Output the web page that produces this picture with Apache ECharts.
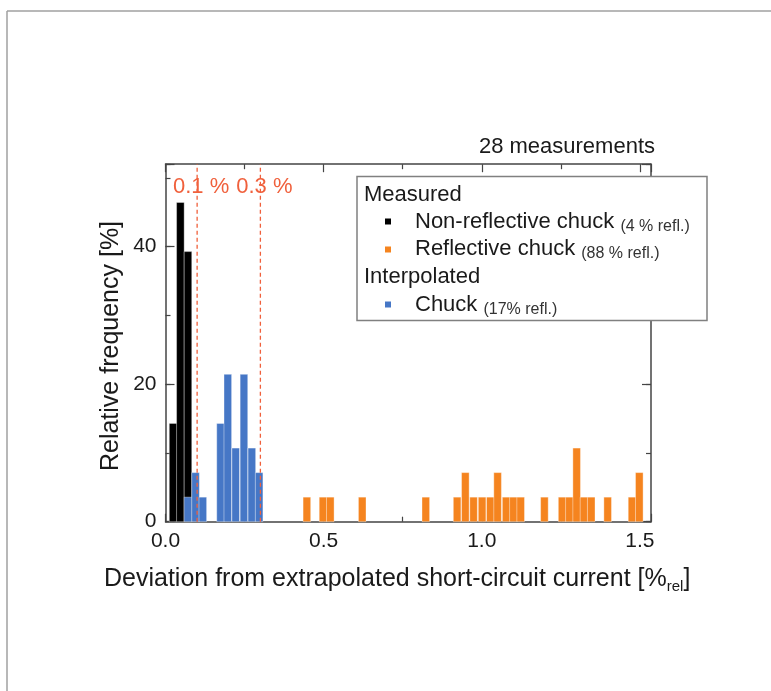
<!DOCTYPE html>
<html>
<head>
<meta charset="utf-8">
<script src="https://cdn.jsdelivr.net/npm/echarts@6/dist/echarts.min.js"></script>
<style>
  html, body { margin: 0; padding: 0; background: #fff; }
  #chart { width: 771px; height: 691px; }
</style>
</head>
<body>
<div id="chart"></div>
<script>
// histogram bins: centre of each bin and relative frequency [%] (28 measurements)
const blackX = [0.024, 0.047, 0.071];
const blackY = [14.29, 46.43, 39.29];

const orangeX = [0.447, 0.498, 0.521, 0.622, 0.823, 0.922, 0.948, 0.974, 1.001, 1.027,
                 1.050, 1.077, 1.100, 1.123, 1.198, 1.254, 1.277, 1.300, 1.323, 1.346,
                 1.398, 1.475, 1.498];
const orangeY = [3.57, 3.57, 3.57, 3.57, 3.57, 3.57, 7.14, 3.57, 3.57, 3.57,
                 7.14, 3.57, 3.57, 3.57, 3.57, 3.57, 3.57, 10.71, 3.57, 3.57,
                 3.57, 3.57, 7.14];

const blueX = [0.071, 0.095, 0.118, 0.174, 0.197, 0.222, 0.248, 0.273, 0.296];
const blueY = [3.57, 7.14, 3.57, 14.29, 21.43, 10.71, 21.43, 10.71, 7.14];

const guideX = [0.1, 0.3];
const guideLabels = ['0.1 %', '0.3 %'];

const xTicks = [0, 0.5, 1.0, 1.5];
const yTicks = [0, 20, 40];

const BIN_W = 0.024;
const X_MAX = 1.535;
const Y_MAX = 52;
const GUIDE_LABEL_Y = 48.7;

const FONT = '"Liberation Sans", Arial, sans-serif';
const TXT = '#1a1a1a';
const AX = '#444';
const RED = '#f0603c';
const ORANGE = '#f5841f';
const BLUE = '#4677c6';

const myChart = echarts.init(document.getElementById('chart'));

function barRenderer(color) {
  return function (params, api) {
    const x = api.value(0);
    const y = api.value(1);
    const tl = api.coord([x - BIN_W / 2, y]);
    const br = api.coord([x + BIN_W / 2, 0]);
    return {
      type: 'rect',
      shape: { x: tl[0], y: tl[1], width: br[0] - tl[0], height: br[1] - tl[1] },
      style: { fill: color, stroke: 'rgba(255,255,255,0.45)', lineWidth: 0.8 }
    };
  };
}

function pairs(xs, ys) {
  return xs.map((x, i) => [x, ys[i]]);
}

const onTick = (v, list) => list.some(t => Math.abs(t - v) < 1e-6);

const xAxisBase = {
  type: 'value',
  min: 0,
  max: X_MAX,
  interval: 0.5,
  axisLine: { show: true, onZero: false, lineStyle: { color: AX, width: 1.5 } },
  axisTick: { show: true, inside: true, length: 8, lineStyle: { color: AX, width: 1.2 } },
  minorTick: { show: true, splitNumber: 2, length: 5, lineStyle: { color: AX, width: 1.2 } },
  splitLine: { show: false },
  minorSplitLine: { show: false }
};

const yAxisBase = {
  type: 'value',
  min: 0,
  max: Y_MAX,
  interval: 20,
  axisLine: { show: true, onZero: false, lineStyle: { color: AX, width: 1.5 } },
  axisTick: { show: true, inside: true, length: 9, lineStyle: { color: AX, width: 1.2 } },
  splitLine: { show: false }
};

const yMinorBase = {
  type: 'value',
  min: 0,
  max: Y_MAX,
  interval: 10,
  axisLine: { show: false, onZero: false },
  axisLabel: { show: false },
  axisTick: { show: true, inside: true, length: 5, lineStyle: { color: AX, width: 1.2 } },
  splitLine: { show: false }
};

const smallRich = {
  a: { fontSize: 22, fontFamily: FONT, fill: TXT, lineHeight: 26 },
  b: { fontSize: 16, fontFamily: FONT, fill: '#333', lineHeight: 22, verticalAlign: 'bottom' }
};

// legend drawn by hand: headers plus coloured squares, on top of the right axis
const LZ = 100;
const legendItems = [
  { type: 'rect', z: LZ, shape: { x: 357, y: 176.5, width: 350, height: 144 }, style: { fill: '#fff', stroke: '#808080', lineWidth: 1.5 } },
  { type: 'text', z: LZ, x: 364, y: 195, style: { text: 'Measured', fill: TXT, fontSize: 22, fontFamily: FONT, verticalAlign: 'middle' } },
  { type: 'rect', z: LZ, shape: { x: 385, y: 218.5, width: 6, height: 6 }, style: { fill: '#000' } },
  { type: 'text', z: LZ, x: 415, y: 222,
    style: { text: '{a|Non-reflective chuck} {b|(4 % refl.)}', fill: TXT, fontSize: 22, fontFamily: FONT, verticalAlign: 'middle', rich: smallRich } },
  { type: 'rect', z: LZ, shape: { x: 385, y: 246.5, width: 6, height: 6 }, style: { fill: ORANGE } },
  { type: 'text', z: LZ, x: 415, y: 249,
    style: { text: '{a|Reflective chuck} {b|(88 % refl.)}', fill: TXT, fontSize: 22, fontFamily: FONT, verticalAlign: 'middle', rich: smallRich } },
  { type: 'text', z: LZ, x: 364, y: 277, style: { text: 'Interpolated', fill: TXT, fontSize: 22, fontFamily: FONT, verticalAlign: 'middle' } },
  { type: 'rect', z: LZ, shape: { x: 385, y: 301.5, width: 6, height: 6 }, style: { fill: BLUE } },
  { type: 'text', z: LZ, x: 415, y: 305,
    style: { text: '{a|Chuck} {b|(17% refl.)}', fill: TXT, fontSize: 22, fontFamily: FONT, verticalAlign: 'middle', rich: smallRich } }
];

const option = {
  animation: false,
  backgroundColor: '#fff',
  grid: { left: 165.5, top: 164.2, right: 120, bottom: 169.3 },
  xAxis: [
    Object.assign({}, xAxisBase, {
      position: 'bottom',
      axisLabel: {
        margin: 9,
        color: TXT,
        fontSize: 21,
        fontFamily: FONT,
        showMaxLabel: false,
        formatter: v => (onTick(v, xTicks) ? v.toFixed(1) : '')
      }
    }),
    Object.assign({}, xAxisBase, { position: 'top', axisLabel: { show: false } })
  ],
  yAxis: [
    Object.assign({}, yAxisBase, {
      position: 'left',
      axisLabel: {
        margin: 9,
        color: TXT,
        fontSize: 21,
        fontFamily: FONT,
        formatter: v => (onTick(v, yTicks) ? String(v) : '')
      }
    }),
    Object.assign({}, yAxisBase, { position: 'right', axisLabel: { show: false } }),
    Object.assign({}, yMinorBase, { position: 'left' }),
    Object.assign({}, yMinorBase, { position: 'right' })
  ],
  series: [
    {
      name: 'Non-reflective chuck',
      type: 'custom',
      xAxisIndex: 0,
      yAxisIndex: 0,
      renderItem: barRenderer('#000'),
      data: pairs(blackX, blackY)
    },
    {
      name: 'Reflective chuck',
      type: 'custom',
      xAxisIndex: 0,
      yAxisIndex: 0,
      renderItem: barRenderer(ORANGE),
      data: pairs(orangeX, orangeY)
    },
    {
      name: 'Chuck',
      type: 'custom',
      xAxisIndex: 0,
      yAxisIndex: 0,
      renderItem: barRenderer(BLUE),
      data: pairs(blueX, blueY)
    },
    {
      name: 'guides',
      type: 'custom',
      xAxisIndex: 0,
      yAxisIndex: 0,
      clip: false,
      z: 5,
      renderItem: function (params, api) {
        const x = api.value(0);
        const p0 = api.coord([x, 0]);
        const p1 = api.coord([x, Y_MAX]);
        const pl = api.coord([x, GUIDE_LABEL_Y]);
        return {
          type: 'group',
          children: [
            {
              type: 'line',
              shape: { x1: p0[0], y1: p0[1], x2: p1[0], y2: p1[1] },
              style: { stroke: RED, lineWidth: 1.3, lineDash: [4, 3] }
            },
            {
              type: 'text',
              x: pl[0] + 4,
              y: pl[1],
              style: {
                text: guideLabels[params.dataIndex],
                fill: RED,
                fontSize: 22,
                fontFamily: FONT,
                align: 'center',
                verticalAlign: 'middle'
              }
            }
          ]
        };
      },
      data: guideX.map(x => [x])
    }
  ],
  graphic: [
    // picture frame
    { type: 'line', shape: { x1: 7, y1: 11, x2: 771, y2: 11 }, style: { stroke: '#a0a0a0', lineWidth: 1.5 } },
    { type: 'line', shape: { x1: 7, y1: 11, x2: 7, y2: 691 }, style: { stroke: '#a0a0a0', lineWidth: 1.5 } },
    {
      type: 'text', x: 655, y: 147,
      style: { text: '28 measurements', fill: TXT, fontSize: 22, fontFamily: FONT, align: 'right', verticalAlign: 'middle' }
    },
    {
      type: 'text', x: 111, y: 346, rotation: Math.PI / 2,
      style: { text: 'Relative frequency [%]', fill: TXT, fontSize: 25, fontFamily: FONT, align: 'center', verticalAlign: 'middle' }
    },
    {
      type: 'text', x: 104, y: 579,
      style: {
        text: '{a|Deviation from extrapolated short-circuit current [%}{s|rel}{a|]}',
        fill: TXT, fontSize: 25, fontFamily: FONT, align: 'left', verticalAlign: 'middle',
        rich: {
          a: { fontSize: 25, fontFamily: FONT, fill: TXT, lineHeight: 30 },
          s: { fontSize: 15, fontFamily: FONT, fill: TXT, lineHeight: 6, verticalAlign: 'bottom' }
        }
      }
    }
  ].concat(legendItems)
};

myChart.setOption(option);

window.addEventListener('resize', () => {
  myChart.resize();
});
</script>
</body>
</html>
